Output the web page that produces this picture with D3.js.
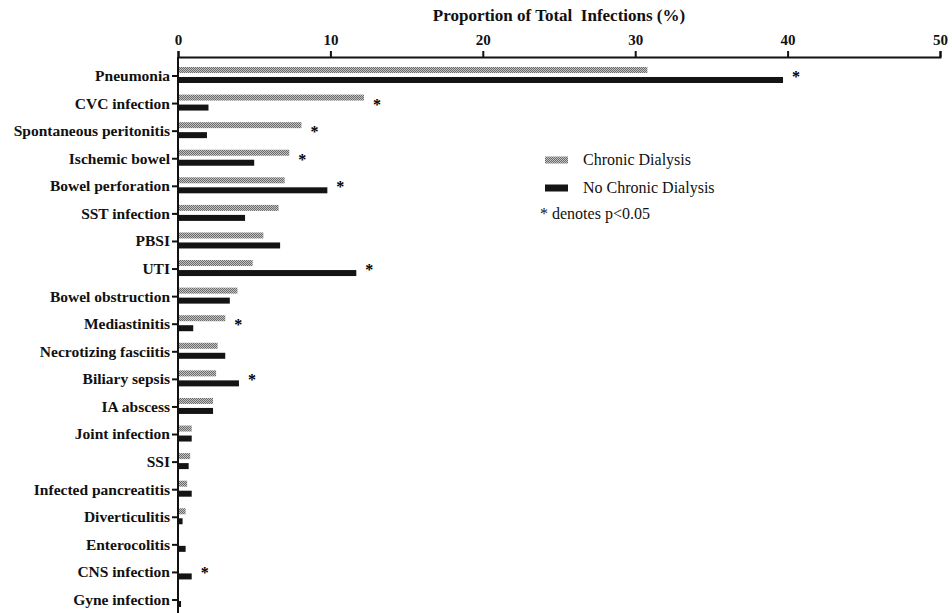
<!DOCTYPE html>
<html>
<head>
<meta charset="utf-8">
<script src="https://cdn.jsdelivr.net/npm/d3@7"></script>
<style>
  body { margin: 0; background: #fff; }
  svg { display: block; }
  svg text { font-family: 'Liberation Serif', 'Times New Roman', 'DejaVu Serif', serif !important; }
</style>
</head>
<body>
<div id="chart"></div>
<script>
'use strict'
var categories = ['Pneumonia', 'CVC infection', 'Spontaneous peritonitis', 'Ischemic bowel',
  'Bowel perforation', 'SST infection', 'PBSI', 'UTI', 'Bowel obstruction', 'Mediastinitis',
  'Necrotizing fasciitis', 'Biliary sepsis', 'IA abscess', 'Joint infection', 'SSI',
  'Infected pancreatitis', 'Diverticulitis', 'Enterocolitis', 'CNS infection', 'Gyne infection']
var chronicDialysis = [30.8, 12.2, 8.1, 7.3, 7.0, 6.6, 5.6, 4.9, 3.9, 3.1, 2.6, 2.5, 2.3, 0.9, 0.8, 0.6, 0.5, 0, 0, 0]
var noChronicDialysis = [39.7, 2.0, 1.9, 5.0, 9.8, 4.4, 6.7, 11.7, 3.4, 1.0, 3.1, 4.0, 2.3, 0.9, 0.7, 0.9, 0.3, 0.5, 0.9, 0.2]
var significant = ['Pneumonia', 'CVC infection', 'Spontaneous peritonitis', 'Ischemic bowel',
  'Bowel perforation', 'UTI', 'Mediastinitis', 'Biliary sepsis', 'CNS infection']
var xTicks = [0, 10, 20, 30, 40, 50]
var seriesNames = ['Chronic Dialysis', 'No Chronic Dialysis']

var width = 952, height = 613

var svg = d3.select('#chart').append('svg')
  .attr('width', width)
  .attr('height', height)

// hatched fill for the dialysis bars
var defs = svg.append('defs')
var pat = defs.append('pattern')
  .attr('id', 'hatch')
  .attr('patternUnits', 'userSpaceOnUse')
  .attr('width', 2).attr('height', 2)
pat.append('rect').attr('width', 2).attr('height', 2).attr('fill', '#c4c4c4')
pat.append('rect').attr('width', 1).attr('height', 1).attr('fill', '#6a6a6a')
pat.append('rect').attr('x', 1).attr('y', 1).attr('width', 1).attr('height', 1).attr('fill', '#6a6a6a')

var x = d3.scaleLinear().domain([0, 50]).range([178, 940])
var y = d3.scaleBand().domain(categories).range([62.2, 613.8])
var ySub = d3.scaleBand().domain(seriesNames).range([-9, 7]).paddingInner(0.4)
var fills = { 'Chronic Dialysis': 'url(#hatch)', 'No Chronic Dialysis': '#141414' }

var rows = categories.map(function (c, i) {
  return { cat: c, values: [chronicDialysis[i], noChronicDialysis[i]] }
})

var axisY = 57

// bars
var g = svg.append('g')
rows.forEach(function (r) {
  var cy = y(r.cat) + y.bandwidth() / 2
  r.values.forEach(function (v, j) {
    if (!v) return
    g.append('rect')
      .attr('x', x(0))
      .attr('y', cy + ySub(seriesNames[j]))
      .attr('width', x(v) - x(0))
      .attr('height', ySub.bandwidth())
      .attr('fill', fills[seriesNames[j]])
  })
  // significance marker just past the longer bar
  if (significant.indexOf(r.cat) >= 0) {
    svg.append('text')
      .attr('x', x(d3.max(r.values)) + 9)
      .attr('y', cy + 6)
      .attr('font-size', 16)
      .attr('font-weight', 'bold')
      .text('*')
  }
})

// top axis
var xAxis = svg.append('g')
  .attr('transform', 'translate(0,' + axisY + ')')
  .call(d3.axisTop(x).tickValues(xTicks).tickSize(6).tickPadding(6))
xAxis.select('.domain').attr('stroke', '#111').attr('stroke-width', 2)
xAxis.selectAll('.tick line').attr('stroke', '#111').attr('stroke-width', 2)
xAxis.selectAll('.tick text')
  .attr('font-size', 15)
  .attr('font-weight', 'bold')
  .attr('fill', '#111')

// left axis
var yAxis = svg.append('g')
  .attr('transform', 'translate(' + x(0) + ',0)')
  .call(d3.axisLeft(y).tickSize(6).tickPadding(2))
yAxis.select('.domain').attr('d', 'M0,' + axisY + 'V' + height).attr('stroke', '#111').attr('stroke-width', 2)
yAxis.selectAll('.tick line').attr('stroke', '#111').attr('stroke-width', 2)
yAxis.selectAll('.tick text')
  .attr('font-size', 15.5)
  .attr('font-weight', 'bold')
  .attr('fill', '#111')

// title
svg.append('text')
  .attr('x', 559)
  .attr('y', 21)
  .attr('text-anchor', 'middle')
  .attr('font-size', 17)
  .attr('font-weight', 'bold')
  .attr('fill', '#111')
  .attr('xml:space', 'preserve')
  .text('Proportion of Total  Infections (%)')

// legend
var legend = svg.append('g').attr('transform', 'translate(545,160)')
seriesNames.forEach(function (s, i) {
  legend.append('rect')
    .attr('x', 0).attr('y', i * 28 - 3.5)
    .attr('width', 23).attr('height', 7)
    .attr('fill', fills[s])
  legend.append('text')
    .attr('x', 38).attr('y', i * 28 + 5)
    .attr('font-size', 16)
    .attr('fill', '#111')
    .text(s)
})
legend.append('text')
  .attr('x', -5).attr('y', 59)
  .attr('font-size', 16)
  .attr('fill', '#111')
  .text('* denotes p<0.05')
</script>
</body>
</html>
